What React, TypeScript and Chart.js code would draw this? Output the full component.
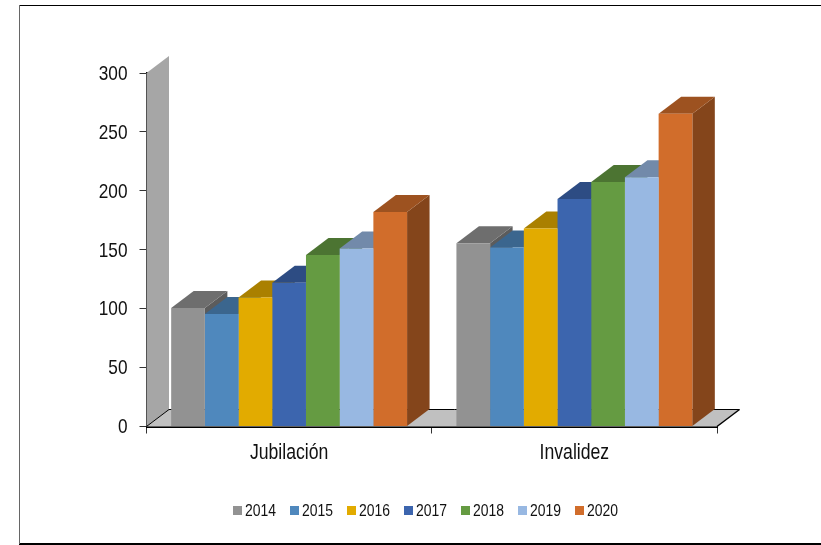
import React, { useEffect, useRef } from "react";
import { Chart, registerables } from "chart.js";

Chart.register(...registerables);

const categories = ["Jubilación", "Invalidez"];
const years = ["2014", "2015", "2016", "2017", "2018", "2019", "2020"];
const v2014 = [100.5, 155.5];
const v2015 = [95.5, 152];
const v2016 = [109.5, 168];
const v2017 = [122, 193];
const v2018 = [145.5, 207.5];
const v2019 = [151, 211.5];
const v2020 = [182, 265.5];
const seriesValues = [v2014, v2015, v2016, v2017, v2018, v2019, v2020];
const colours = ["#929292", "#4f88bd", "#e2ab00", "#3c65ae", "#659b42", "#98b8e2", "#d16d2b"];
const yTicks = [0, 50, 100, 150, 200, 250, 300];

const FONT = '"Liberation Sans", Arial, sans-serif';
const CONDENSE = 0.82;
const DX = 22.5;
const DY = -17;

function shade(hex: string, f: number) {
  const n = parseInt(hex.slice(1), 16);
  const r = Math.round(((n >> 16) & 255) * f);
  const g = Math.round(((n >> 8) & 255) * f);
  const b = Math.round((n & 255) * f);
  return `rgb(${r},${g},${b})`;
}

function poly(ctx: CanvasRenderingContext2D, pts: number[][], fill: string) {
  ctx.beginPath();
  pts.forEach((p, i) => (i ? ctx.lineTo(p[0], p[1]) : ctx.moveTo(p[0], p[1])));
  ctx.closePath();
  ctx.fillStyle = fill;
  ctx.fill();
}

const depthPlugin = {
  id: "depth",
  beforeDraw(chart: any) {
    const { ctx, width, height } = chart;
    ctx.save();
    ctx.fillStyle = "#ffffff";
    ctx.fillRect(0, 0, width, height);
    ctx.fillStyle = "#000000";
    ctx.fillRect(19, 5, width - 19, 1);
    ctx.fillRect(19, 543, width - 19, 2);
    ctx.fillStyle = "#666666";
    ctx.fillRect(19, 5, 1, 539);
    ctx.restore();
  },
  beforeDatasetsDraw(chart: any) {
    const { ctx, chartArea: a } = chart;
    ctx.save();
    poly(ctx, [[a.left, a.top], [a.left + DX, a.top + DY], [a.left + DX, a.bottom + DY], [a.left, a.bottom]], "#a6a6a6");
    poly(ctx, [[a.left, a.bottom], [a.left + DX, a.bottom + DY], [a.right + DX, a.bottom + DY], [a.right, a.bottom]], "#c0c0c0");
    ctx.strokeStyle = "#000000";
    ctx.lineWidth = 1;
    ctx.beginPath();
    ctx.moveTo(a.left, a.bottom);
    ctx.lineTo(a.left + DX, a.bottom + DY);
    ctx.lineTo(a.right + DX, a.bottom + DY);
    ctx.stroke();
    ctx.lineWidth = 1.5;
    ctx.beginPath();
    ctx.moveTo(a.right + DX, a.bottom + DY);
    ctx.lineTo(a.right, a.bottom);
    ctx.stroke();
    ctx.strokeStyle = "#ffffff";
    ctx.lineWidth = 1;
    ctx.beginPath();
    ctx.moveTo(a.left + DX + 1, a.top + DY);
    ctx.lineTo(a.left + DX + 1, a.bottom + DY - 1);
    ctx.stroke();
    chart.data.labels.forEach((_: string, index: number) => {
      chart.data.datasets.forEach((ds: any, di: number) => {
        const bar = chart.getDatasetMeta(di).data[index];
        const half = bar.width / 2;
        const l = bar.x - half;
        const r = bar.x + half;
        const t = bar.y;
        const b = bar.base;
        const c = ds.backgroundColor;
        poly(ctx, [[r, t], [r + DX, t + DY], [r + DX, b + DY], [r, b]], shade(c, 0.63));
        poly(ctx, [[l, t], [l + DX, t + DY], [r + DX, t + DY], [r, t]], shade(c, 0.75));
      });
    });
    ctx.restore();
  },
  afterDraw(chart: any) {
    const { ctx } = chart;
    ctx.save();
    ctx.font = `17px ${FONT}`;
    ctx.textBaseline = "middle";
    ctx.textAlign = "left";
    chart.data.datasets.forEach((ds: any, i: number) => {
      const x = 233 + i * 57;
      ctx.fillStyle = ds.backgroundColor;
      ctx.fillRect(x, 506, 9, 9);
      ctx.fillStyle = "#111111";
      ctx.fillText(ds.label, x + 12, 510);
    });
    ctx.restore();
  },
};

export default function App() {
  const ref = useRef<HTMLCanvasElement>(null);
  useEffect(() => {
    const canvas = ref.current as HTMLCanvasElement;
    const c2d = canvas.getContext("2d") as any;
    const nativeFill = c2d.fillText.bind(c2d);
    // the reference uses a narrow face that is not installed: condense the text horizontally about its anchor
    c2d.fillText = (text: string, x: number, y: number) => {
      c2d.save();
      c2d.translate(x, y + 1);
      c2d.scale(CONDENSE, 1);
      nativeFill(text, 0, 0);
      c2d.restore();
    };
    const chart = new Chart(canvas, {
      type: "bar",
      data: {
        labels: categories,
        datasets: years.map((y, i) => ({
          label: y,
          data: seriesValues[i],
          backgroundColor: colours[i],
          borderWidth: 0,
          barPercentage: 1,
          categoryPercentage: 0.827,
        })),
      },
      options: {
        responsive: false,
        animation: false,
        layout: { padding: { top: 73, right: 104, left: 0, bottom: 0 } },
        plugins: { legend: { display: false }, tooltip: { enabled: false }, title: { display: false } },
        scales: {
          x: {
            afterFit: (s: any) => { s.height = 118.5; },
            grid: { drawOnChartArea: false, drawTicks: true, tickLength: 7, color: "#333333", offset: true },
            border: { color: "#000000", width: 2 },
            ticks: { color: "#111111", font: { family: FONT, size: 21.5 }, padding: 6, maxRotation: 0 },
          },
          y: {
            min: 0,
            max: 300,
            afterFit: (s: any) => { s.width = 146.5; },
            afterBuildTicks: (s: any) => { s.ticks = yTicks.map((value) => ({ value })); },
            grid: { drawOnChartArea: false, drawTicks: true, tickLength: 7, color: "#333333" },
            border: { color: "#000000", width: 2 },
            ticks: { color: "#111111", font: { family: FONT, size: 21 }, padding: 12 },
          },
        },
      },
      plugins: [depthPlugin],
    } as any);
    return () => chart.destroy();
  }, []);
  return (
    <div style={{ position: "fixed", left: 0, top: 0, width: 821, height: 545, overflow: "hidden" }}>
      <canvas ref={ref} width={821} height={545} style={{ display: "block", width: 821, height: 545 }} />
    </div>
  );
}
